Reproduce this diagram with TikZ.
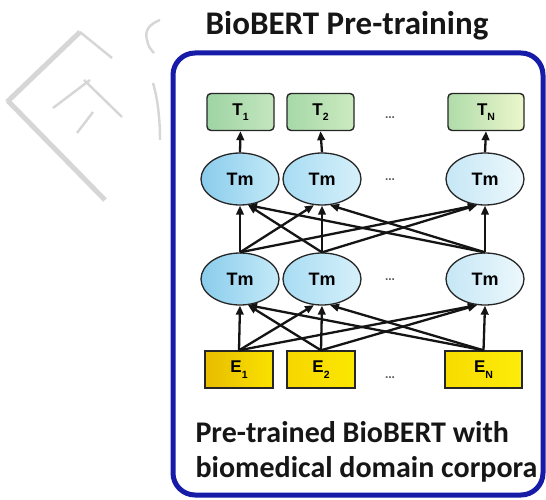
\documentclass[tikz,border=0pt]{standalone}
\usepackage{fontspec}
\setmainfont{Carlito}
\newfontfamily\labelfont{Liberation Sans}
\usetikzlibrary{arrows.meta,shapes.geometric,calc}

\definecolor{frameblue}{RGB}{22,28,168}
\definecolor{edgegray}{RGB}{38,38,38}
\definecolor{wmgray}{RGB}{214,214,214}
\definecolor{inktext}{RGB}{22,22,22}

% letter with a lowered index, as in T_1 or E_N
\newcommand\tokname[2]{#1\raisebox{-0.32em}{\fontsize{10.5}{10.5}\selectfont #2}}

\tikzset{
  tokbox/.style={draw=edgegray, line width=1.4pt, rounded corners=4pt,
    minimum height=37pt, inner sep=0pt, text=black,
    font=\labelfont\bfseries\fontsize{17}{17}\selectfont},
  trmnode/.style={ellipse, draw=edgegray, line width=1.3pt,
    minimum width=78pt, minimum height=52pt, inner sep=0pt, text=black,
    font=\labelfont\bfseries\fontsize{18}{18}\selectfont},
  embbox/.style={draw=edgegray, line width=1.4pt,
    minimum height=37pt, inner sep=0pt, text=black,
    font=\labelfont\bfseries\fontsize{17}{17}\selectfont},
  gap/.style={font=\labelfont\bfseries\fontsize{12}{12}\selectfont, text=black!65},
  link/.style={line width=2.3pt, draw=black!92, -{Triangle[length=9pt,width=7.5pt]}},
  wmthick/.style={draw=wmgray, line width=5pt},
  wmthin/.style={draw=wmgray, line width=2.4pt},
}

\begin{document}
\begin{tikzpicture}[x=1pt,y=-1pt]
\useasboundingbox (0,0) rectangle (546,500);
\fill[white] (0,0) rectangle (546,500);

% faint lettering behind the frame
\draw[wmthick] (7,102) -- (80,32);
\draw[wmthick] (8,101) -- (105,200);
\draw[wmthin] (80,32) -- (112,58);
\draw[wmthin] (53,108) -- (90,80);
\draw[wmthin] (84,80) -- (122,117);
\draw[wmthin] (77,133) -- (93,112);
\draw[wmthin] (160,20) .. controls (150,24) and (144,30) .. (147,40)
  .. controls (148,46) and (151,50) .. (154,53);
\draw[wmthin] (153,83) .. controls (158,100) and (160,120) .. (160,140);

% frame
\draw[frameblue, line width=5pt, fill=white, rounded corners=22pt]
  (173,53) rectangle (543,495);

% title
\node[anchor=base, text=inktext, font=\bfseries\fontsize{33}{33}\selectfont]
  (title) at (347,35) {BioBERT Pre-training};

% output tokens
\node[tokbox, minimum width=67pt, left color={rgb,255:red,158;green,212;blue,164},
  right color={rgb,255:red,196;green,230;blue,190}] (t1) at (240.5,112) {\tokname{T}{1}};
\node[tokbox, minimum width=67pt, left color={rgb,255:red,166;green,216;blue,168},
  right color={rgb,255:red,204;green,234;blue,192}] (t2) at (320.5,112) {\tokname{T}{2}};
\node[tokbox, minimum width=76pt, left color={rgb,255:red,176;green,220;blue,170},
  right color={rgb,255:red,236;green,246;blue,204}] (tn) at (486,112) {\tokname{T}{N}};
\node[gap] (tdots) at (390,118) {...};

% upper transformer layer
\node[trmnode, left color={rgb,255:red,138;green,204;blue,236},
  right color={rgb,255:red,196;green,234;blue,248}] (u1) at (240,179) {Tm};
\node[trmnode, left color={rgb,255:red,168;green,220;blue,243},
  right color={rgb,255:red,214;green,240;blue,250}] (u2) at (322,179) {Tm};
\node[trmnode, left color={rgb,255:red,198;green,231;blue,246},
  right color={rgb,255:red,236;green,248;blue,252}] (un) at (485,179) {Tm};
\node[gap] (udots) at (390,180) {...};

% lower transformer layer
\node[trmnode, left color={rgb,255:red,138;green,204;blue,236},
  right color={rgb,255:red,196;green,234;blue,248}] (l1) at (240,279) {Tm};
\node[trmnode, left color={rgb,255:red,168;green,220;blue,243},
  right color={rgb,255:red,214;green,240;blue,250}] (l2) at (322,279) {Tm};
\node[trmnode, left color={rgb,255:red,198;green,231;blue,246},
  right color={rgb,255:red,236;green,248;blue,252}] (ln) at (485,279) {Tm};
\node[gap] (ldots) at (390,280) {...};

% input embeddings
\node[embbox, minimum width=68pt, left color={rgb,255:red,232;green,188;blue,0},
  right color={rgb,255:red,250;green,226;blue,0}] (e1) at (239,369.5) {\tokname{E}{1}};
\node[embbox, minimum width=68pt, left color={rgb,255:red,246;green,214;blue,0},
  right color={rgb,255:red,252;green,232;blue,0}] (e2) at (321,369.5) {\tokname{E}{2}};
\node[embbox, minimum width=77pt, left color={rgb,255:red,248;green,220;blue,0},
  right color={rgb,255:red,253;green,236;blue,10}] (en) at (483.5,369.5) {\tokname{E}{N}};
\node[gap] (edots) at (390,378) {...};

% embeddings feed every lower block
\foreach \s/\t/\a in {e1/l1/south, e1/l2/-107, e1/ln/-107,
                      e2/l1/-73,   e2/l2/south, e2/ln/-107,
                      en/l1/-73,   en/l2/-73,   en/ln/south}
  \draw[link] (\s.north) -- (\t.\a);

% lower blocks feed every upper block
\foreach \s/\t/\a in {l1/u1/south, l1/u2/-107, l1/un/-107,
                      l2/u1/-73,   l2/u2/south, l2/un/-107,
                      ln/u1/-73,   ln/u2/-73,   ln/un/south}
  \draw[link] (\s.north) -- (\t.\a);

% upper blocks to output tokens
\draw[link] (u1.north) -- (t1.south);
\draw[link] (u2.north) -- (t2.south);
\draw[link] (un.north) -- (tn.south);

% caption
\node[anchor=base west, text=inktext, font=\bfseries\fontsize{30}{30}\selectfont]
  (cap1) at (192,442) {Pre-trained BioBERT with};
\node[anchor=base west, text=inktext, font=\bfseries\fontsize{30}{30}\selectfont]
  (cap2) at (192,477) {biomedical domain corpora};
\end{tikzpicture}
\end{document}
